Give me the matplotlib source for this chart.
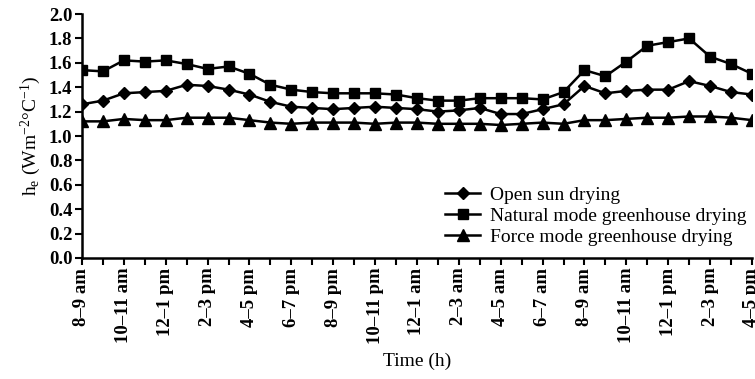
import numpy as np
import matplotlib
matplotlib.use('Agg')
import matplotlib.pyplot as plt

plt.rcParams['font.family'] = ['Liberation Serif', 'DejaVu Serif']
plt.rcParams['mathtext.fontset'] = 'custom'
plt.rcParams['mathtext.rm'] = 'Liberation Serif'
plt.rcParams['mathtext.it'] = 'Liberation Serif:italic'

# hourly intervals, 8-9 am of day 1 to 4-5 pm of day 2
hours = ['8–9 am', '9–10 am', '10–11 am', '11–12 am', '12–1 pm', '1–2 pm',
         '2–3 pm', '3–4 pm', '4–5 pm', '5–6 pm', '6–7 pm', '7–8 pm',
         '8–9 pm', '9–10 pm', '10–11 pm', '11–12 pm', '12–1 am', '1–2 am',
         '2–3 am', '3–4 am', '4–5 am', '5–6 am', '6–7 am', '7–8 am',
         '8–9 am', '9–10 am', '10–11 am', '11–12 am', '12–1 pm', '1–2 pm',
         '2–3 pm', '3–4 pm', '4–5 pm']

open_sun = [1.26, 1.29, 1.35, 1.36, 1.37, 1.42, 1.41, 1.38, 1.34, 1.28,
            1.24, 1.23, 1.22, 1.23, 1.24, 1.23, 1.22, 1.20, 1.21, 1.23,
            1.18, 1.18, 1.22, 1.26, 1.41, 1.35, 1.37, 1.38, 1.38, 1.45,
            1.41, 1.36, 1.34]
natural_mode = [1.54, 1.53, 1.62, 1.61, 1.62, 1.59, 1.55, 1.57, 1.51, 1.42,
                1.38, 1.36, 1.35, 1.35, 1.35, 1.34, 1.31, 1.29, 1.29, 1.31,
                1.31, 1.31, 1.30, 1.36, 1.54, 1.49, 1.61, 1.74, 1.77, 1.80,
                1.65, 1.59, 1.51]
force_mode = [1.12, 1.12, 1.14, 1.13, 1.13, 1.15, 1.15, 1.15, 1.13, 1.11,
              1.10, 1.11, 1.11, 1.11, 1.10, 1.11, 1.11, 1.10, 1.10, 1.10,
              1.09, 1.10, 1.11, 1.10, 1.13, 1.13, 1.14, 1.15, 1.15, 1.16,
              1.16, 1.15, 1.13]

x = np.arange(len(hours))

fig = plt.figure(figsize=(7.55, 3.79), dpi=100)
ax = fig.add_axes([0.1086, 0.3193, 0.8874, 0.6437])

ax.plot(x, open_sun, color='black', lw=1.8, marker='D', ms=6.5,
        label='Open sun drying')
ax.plot(x, natural_mode, color='black', lw=1.8, marker='s', ms=7.5,
        label='Natural mode greenhouse drying')
ax.plot(x, force_mode, color='black', lw=1.8, marker='^', ms=8.5,
        label='Force mode greenhouse drying')

ax.set_xlim(0, len(hours) - 1)
ax.set_ylim(0, 2.0)
ax.set_yticks(np.arange(0, 2.01, 0.2))
ax.set_yticklabels([f'{v:.1f}' for v in np.arange(0, 2.01, 0.2)],
                   fontsize=13.5, fontweight='semibold')
ax.set_xticks(x)
ax.set_xticklabels([h if i % 2 == 0 else '' for i, h in enumerate(hours)],
                   rotation=90, fontsize=13.5, fontweight='semibold')

for side in ['top', 'right']:
    ax.spines[side].set_visible(False)
for side in ['left', 'bottom']:
    ax.spines[side].set_linewidth(1.8)
ax.tick_params(axis='both', direction='out', length=5, width=1.5, pad=2)

ax.set_ylabel(r'h$_{\mathrm{e}}$ (Wm$^{-2}$°C$^{-1}$)', fontsize=14, labelpad=4)
ax.set_xlabel('Time (h)', fontsize=14, labelpad=6)

ax.legend(loc='lower right', bbox_to_anchor=(1.012, -0.005), frameon=False,
          fontsize=14, handlelength=1.8, handletextpad=0.5,
          labelspacing=0.16, borderpad=0.2)

fig.savefig('out.png', dpi=100)
